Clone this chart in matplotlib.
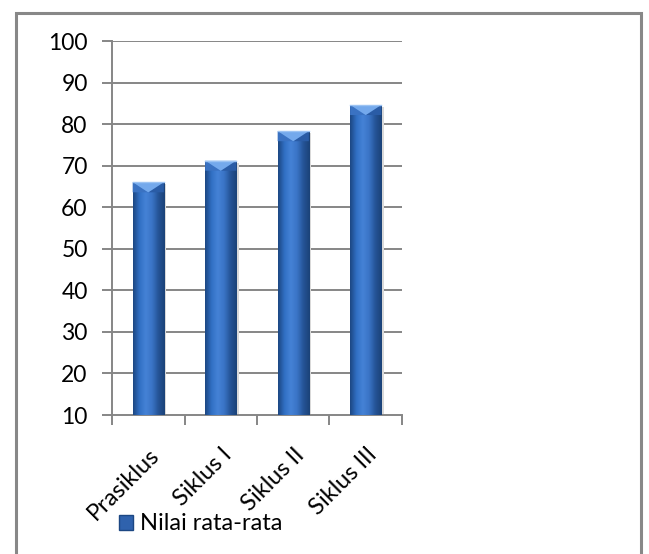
import numpy as np
import matplotlib.pyplot as plt
from matplotlib.patches import Rectangle, Polygon, Patch
from matplotlib.colors import LinearSegmentedColormap

categories = ["Prasiklus", "Siklus I", "Siklus II", "Siklus III"]
nilai = [66.0, 71.2, 78.3, 84.6]
y_ticks = [10, 20, 30, 40, 50, 60, 70, 80, 90, 100]
legend_label = "Nilai rata-rata"

plt.rcParams['font.family'] = ['Lato', 'DejaVu Sans']

fig = plt.figure(figsize=(6.49, 5.54), dpi=100)
ax = fig.add_axes([0.1726, 0.2509, 0.4468, 0.675])

# outer chart frame
fig.patches.append(Rectangle((16 / 649, -0.05), (641 - 16) / 649, 1 - 13 / 554 + 0.05,
                             transform=fig.transFigure, fill=False,
                             edgecolor="#888888", linewidth=2.2, zorder=0))

x = np.arange(len(categories))
bar_w = 0.43
ax.set_xlim(-0.5, len(categories) - 0.5)
ax.set_ylim(y_ticks[0], y_ticks[-1])

grid_col = "#868686"
for t in y_ticks[1:]:
    ax.axhline(t, color=grid_col, linewidth=1.4, zorder=1)

bars = ax.bar(x, [v - y_ticks[0] for v in nilai], bottom=y_ticks[0], width=bar_w,
              color="#2f62ad", edgecolor="none", zorder=3)

# horizontal shading across each bar
cmap = LinearSegmentedColormap.from_list(
    "barshade", ["#1c4783", "#3170c4", "#4582d6", "#3a74c6", "#255497", "#1b4278"])
grad = np.linspace(0, 1, 64).reshape(1, -1)

# bevel depth in data units (about 10 px)
px_per_unit = ax.get_position().height * fig.get_figheight() * fig.dpi / (y_ticks[-1] - y_ticks[0])
bevel = 10 / px_per_unit

for b, v in zip(bars, nilai):
    x0 = b.get_x()
    x1 = x0 + b.get_width()
    xc = (x0 + x1) / 2
    # soft shadow on the right
    ax.add_patch(Rectangle((x1, y_ticks[0]), 0.03, v - y_ticks[0] - 0.5,
                           color="#d9d9d9", zorder=2, linewidth=0))
    im = ax.imshow(grad, cmap=cmap, aspect="auto", extent=(x0, x1, y_ticks[0], v),
                   zorder=3.5, interpolation="bicubic")
    im.set_clip_path(b)
    # darker side facets of the bevel
    ax.add_patch(Polygon([(x0, v), (xc, v - bevel), (x0, v - bevel)],
                         closed=True, color="#3a72c2", zorder=4, linewidth=0))
    ax.add_patch(Polygon([(x1, v), (xc, v - bevel), (x1, v - bevel)],
                         closed=True, color="#2a5ca6", zorder=4, linewidth=0))
    # light top facet
    ax.add_patch(Polygon([(x0, v), (x1, v), (xc, v - bevel)],
                         closed=True, color="#74a9ec", zorder=4.2, linewidth=0))
    ax.plot([x0, x1], [v, v], color="#9cc3f3", linewidth=1.0, zorder=4.3)

for s in ["top", "right"]:
    ax.spines[s].set_visible(False)
for s in ["left", "bottom"]:
    ax.spines[s].set_color(grid_col)
    ax.spines[s].set_linewidth(1.4)

ax.set_yticks(y_ticks)
ax.tick_params(axis="y", length=7, width=1.4, color=grid_col, labelsize=16.5, pad=10.5)

ax.set_xticks(x)
ax.set_xticklabels(categories, rotation=45, ha="right", va="top", rotation_mode="anchor")
ax.set_xticks(np.arange(-0.5, len(categories), 1.0), minor=True)
ax.tick_params(axis="x", which="major", length=0, labelsize=17, pad=21)
ax.tick_params(axis="x", which="minor", length=7, width=1.4, color=grid_col)

fig.legend(handles=[Patch(facecolor="#2f62ad", edgecolor="#1c4783", label=legend_label)],
           loc="center left", bbox_to_anchor=(119 / 649, 1 - 524 / 554), frameon=False,
           fontsize=17, handlelength=0.6, handleheight=0.6, handletextpad=0.3,
           borderpad=0, borderaxespad=0)

fig.savefig("out.png", dpi=100, facecolor="white")
